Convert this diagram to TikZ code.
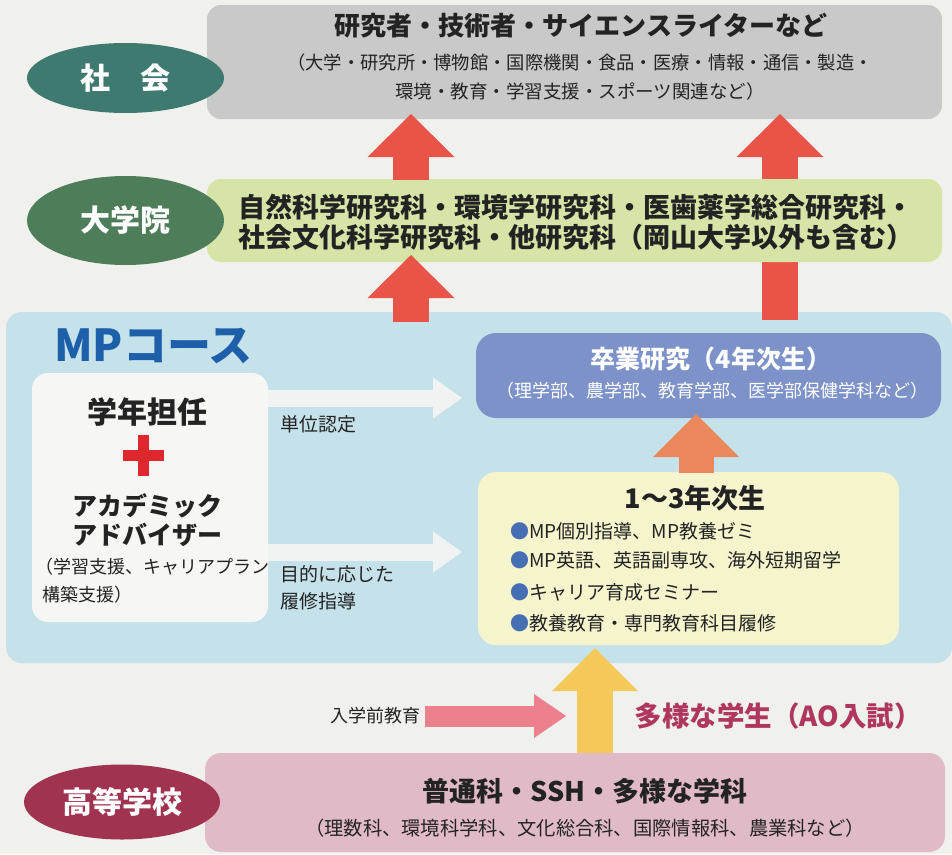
\documentclass[tikz,border=0pt]{standalone}
\usepackage{fontspec}
\setmainfont{Noto Sans CJK JP}
\usetikzlibrary{arrows.meta,shapes.geometric}
\definecolor{bgc}{RGB}{240,240,237}
\definecolor{grayb}{RGB}{201,201,201}
\definecolor{greenb}{RGB}{214,229,167}
\definecolor{socc}{RGB}{62,122,112}
\definecolor{gradc}{RGB}{78,125,90}
\definecolor{hsc}{RGB}{160,52,80}
\definecolor{redarr}{RGB}{233,84,72}
\definecolor{mpblue}{RGB}{197,225,234}
\definecolor{mptitle}{RGB}{30,95,170}
\definecolor{whiteb}{RGB}{246,246,244}
\definecolor{whitearr}{RGB}{241,243,243}
\definecolor{gradb}{RGB}{124,146,200}
\definecolor{orangearr}{RGB}{235,135,90}
\definecolor{yellowb}{RGB}{246,244,205}
\definecolor{bullc}{RGB}{70,110,178}
\definecolor{yellowarr}{RGB}{245,200,90}
\definecolor{pinkarr}{RGB}{236,128,140}
\definecolor{aoc}{RGB}{175,55,95}
\definecolor{pinkb}{RGB}{225,186,200}
\definecolor{plusc}{RGB}{222,40,45}
\definecolor{txt}{RGB}{35,35,35}
\newcommand\fsz[1]{\fontsize{#1}{#1}\selectfont}
\begin{document}
\begin{tikzpicture}[x=1pt,y=-1pt,
  box/.style={draw=none, inner sep=0pt, rounded corners=14pt},
  oval/.style={ellipse, inner sep=0pt, text=white, font=\bfseries\fsz{30}},
  lbl/.style={inner sep=0pt, text=txt},
  blockarr/.style n args={3}{line width=#1, -{Triangle[width=#2,length=#3,line width=0pt]}}]
\fill[bgc] (0,0) rectangle (952,854);
\useasboundingbox (0,0) rectangle (952,854);

% MP region
\node[box, fill=mpblue, minimum width=946pt, minimum height=351pt, rounded corners=16pt] (mp) at (479,487.5) {};
\node[box, fill=whiteb, minimum width=236pt, minimum height=249pt, rounded corners=16pt] (adv) at (150,497.5) {};
\node[box, fill=gradb, minimum width=465pt, minimum height=85pt, rounded corners=20pt] (sotsu) at (708.5,375.5) {};
\node[box, fill=yellowb, minimum width=421pt, minimum height=173pt, rounded corners=18pt] (year) at (688.5,558.5) {};

% white arrows
\coordinate (w1s) at (268,398); \coordinate (w1e) at (462,398);
\coordinate (w2s) at (268,552); \coordinate (w2e) at (462,552);
\draw[whitearr, blockarr={17pt}{41pt}{29pt}] (w1s) -- (w1e);
\draw[whitearr, blockarr={17pt}{41pt}{29pt}] (w2s) -- (w2e);

% society box
\node[box, fill=grayb, minimum width=735pt, minimum height=114pt] (socbox) at (574.5,62) {};

% right long red arrow (behind graduate box)
\coordinate (r3s) at (780,320); \coordinate (r3e) at (780,114);
\draw[redarr, blockarr={36pt}{87pt}{43pt}] (r3s) -- (r3e);

% graduate box
\node[box, fill=greenb, minimum width=735pt, minimum height=83pt] (gradbox) at (574.5,220.5) {};

% left red arrows
\coordinate (r1s) at (411,180); \coordinate (r1e) at (411,114);
\coordinate (r2s) at (411,322); \coordinate (r2e) at (411,255);
\draw[redarr, blockarr={36pt}{87pt}{43pt}] (r1s) -- (r1e);
\draw[redarr, blockarr={36pt}{87pt}{43pt}] (r2s) -- (r2e);

% orange arrow
\coordinate (o1s) at (696,473); \coordinate (o1e) at (696,414);
\draw[orangearr, blockarr={35pt}{86pt}{43pt}] (o1s) -- (o1e);

% high school box
\node[box, fill=pinkb, minimum width=740pt, minimum height=99pt, rounded corners=16pt] (hsbox) at (575,802.5) {};

% yellow arrow
\coordinate (y1s) at (595,753); \coordinate (y1e) at (595,648);
\draw[yellowarr, blockarr={36pt}{86pt}{43pt}] (y1s) -- (y1e);

% pink arrow
\coordinate (p1s) at (425,716); \coordinate (p1e) at (566,716);
\draw[pinkarr, blockarr={21pt}{44pt}{32pt}] (p1s) -- (p1e);

% ovals
\node[oval, fill=socc, minimum width=197pt, minimum height=70pt] (soc) at (125.5,78) {社　会};
\node[oval, fill=gradc, minimum width=197pt, minimum height=89pt] (grad) at (125.5,220.5) {大学院};
\node[oval, fill=hsc, minimum width=196pt, minimum height=75pt] (hs) at (122,802) {高等学校};

% society texts
\node[lbl, font=\bfseries\fsz{26}] (socT) at (581,26) {研究者・技術者・サイエンスライターなど};
\node[lbl, font=\fsz{18.3}] (socA) at (580,63) {（大学・研究所・博物館・国際機関・食品・医療・情報・通信・製造・};
\node[lbl, font=\fsz{18.5}] (socB) at (580,91) {環境・教育・学習支援・スポーツ関連など）};

% graduate texts
\node[lbl, font=\bfseries\fsz{27}] (gradA) at (576,207) {自然科学研究科・環境学研究科・医歯薬学総合研究科・};
\node[lbl, font=\bfseries\fsz{27}] (gradB) at (576,237) {社会文化科学研究科・他研究科（岡山大学以外も含む）};

% MP texts
\node[lbl, anchor=west, text=mptitle, font=\bfseries\fsz{44}] (mpT) at (54,346) {MPコース};
\node[lbl, font=\bfseries\fsz{30}] (advA) at (147,412) {学年担任};
\draw[plusc, line width=11pt] (123,455.5) -- (164,455.5);
\draw[plusc, line width=11pt] (143.5,435) -- (143.5,476);
\node[lbl, font=\bfseries\fsz{25}] (advB) at (147,506) {アカデミック};
\node[lbl, font=\bfseries\fsz{25}] (advC) at (147,535) {アドバイザー};
\node[lbl, anchor=west, font=\fsz{18}] (advD) at (35,567) {（学習支援、キャリアプラン};
\node[lbl, anchor=west, font=\fsz{18}] (advE) at (42,595) {構築支援）};
\node[lbl, anchor=west, font=\fsz{19}] (w1l) at (280,424) {単位認定};
\node[lbl, anchor=west, font=\fsz{19}] (w2l) at (280,574) {目的に応じた};
\node[lbl, anchor=west, font=\fsz{19}] (w2m) at (280,601) {履修指導};

\node[lbl, text=white, font=\bfseries\fsz{25}] (sotsuT) at (711,359.5) {卒業研究（4年次生）};
\node[lbl, text=white, font=\fsz{18}] (sotsuS) at (712,391) {（理学部、農学部、教育学部、医学部保健学科など）};

\node[lbl, font=\bfseries\fsz{27}] (yearT) at (695,498.5) {1〜3年次生};
\node[lbl, anchor=west, font=\fsz{19}] (b1) at (510,531) {{\color{bullc}●}MP個別指導、MP教養ゼミ};
\node[lbl, anchor=west, font=\fsz{19}] (b2) at (510,560) {{\color{bullc}●}MP英語、英語副専攻、海外短期留学};
\node[lbl, anchor=west, font=\fsz{19}] (b3) at (510,592) {{\color{bullc}●}キャリア育成セミナー};
\node[lbl, anchor=west, font=\fsz{19}] (b4) at (510,623) {{\color{bullc}●}教養教育・専門教育科目履修};

% bottom texts
\node[lbl, anchor=east, font=\fsz{18}] (pre) at (421,716) {入学前教育};
\node[lbl, text=aoc, font=\bfseries\fsz{27.5}] (ao) at (778,716) {多様な学生（AO入試）};
\node[lbl, font=\bfseries\fsz{27}] (hsA) at (585,791) {普通科・SSH・多様な学科};
\node[lbl, font=\fsz{19.3}] (hsB) at (585,828) {（理数科、環境科学科、文化総合科、国際情報科、農業科など）};
\end{tikzpicture}
\end{document}
